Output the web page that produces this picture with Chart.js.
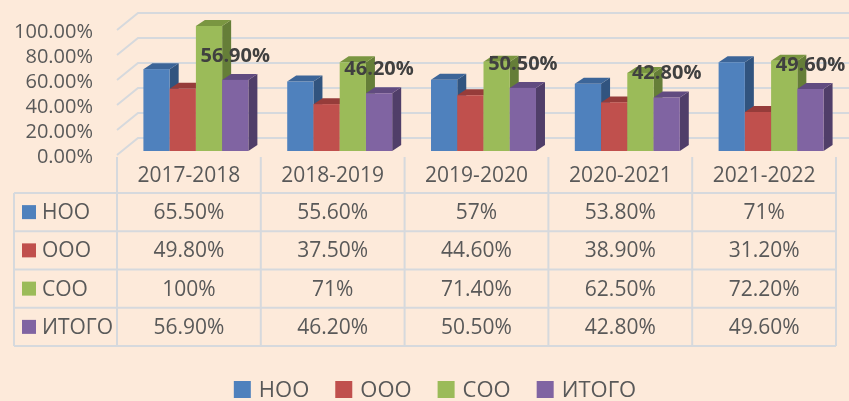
<!DOCTYPE html>
<html><head><meta charset="utf-8">
<script src="https://cdn.jsdelivr.net/npm/chart.js@4"></script>
<style>html,body{margin:0;padding:0;background:#FDEADA;}#wrap{width:849px;height:401px;}</style>
</head><body><div id="wrap"><canvas id="c" width="849" height="401"></canvas></div>
<script>
// ---- data ----
const categories = ['2017-2018','2018-2019','2019-2020','2020-2021','2021-2022'];
const seriesNames = ['НОО','ООО','СОО','ИТОГО'];
const nooValues   = [65.5, 55.6, 57, 53.8, 71];
const oooValues   = [49.8, 37.5, 44.6, 38.9, 31.2];
const sooValues   = [100, 71, 71.4, 62.5, 72.2];
const itogoValues = [56.9, 46.2, 50.5, 42.8, 49.6];
const yTicks = [0, 20, 40, 60, 80, 100];

// ---- styles ----
const FACE = ['#4F81BD','#C0504D','#9BBB59','#8064A2'];
const TOPC = ['#3C6598','#963C3A','#7A9641','#614B80'];
const SIDE = ['#31547F','#82302E','#657E38','#503E69'];
const GRID = '#D6D9DD';
const TEXT = '#595959';
const FONT = 'Open Sans';
const DX = 9, DY = 6;          // bar depth
const SHIFT = 7;               // perspective shift of bars
const WALL_DX = 21, WALL_BACK = 13, WALL_FRONT = 4;

const fmt = v => (Number.isInteger(v) ? v + '%' : v.toFixed(2) + '%');
const allSeries = [nooValues, oooValues, sooValues, itogoValues];

const plugin3d = {
  id: 'plugin3d',
  beforeDatasetsDraw(chart) {
    const {ctx, chartArea, scales: {y}} = chart;
    ctx.save();
    // walls / gridlines
    ctx.strokeStyle = GRID; ctx.lineWidth = 2;
    yTicks.forEach(v => {
      const yb = y.getPixelForValue(v);
      ctx.beginPath();
      ctx.moveTo(chartArea.left, yb + WALL_FRONT);
      ctx.lineTo(chartArea.left + WALL_DX, yb - WALL_BACK);
      ctx.lineTo(chart.width, yb - WALL_BACK);
      ctx.stroke();
    });
    // bars
    for (let i = 0; i < categories.length; i++) {
      for (let d = 0; d < allSeries.length; d++) {
        const el = chart.getDatasetMeta(d).data[i];
        const p = el.getProps(['x','y','base','width'], true);
        const l = p.x - p.width / 2 + SHIFT, r = l + p.width, t = p.y, b = p.base;
        ctx.fillStyle = SIDE[d];
        ctx.beginPath(); ctx.moveTo(r, t); ctx.lineTo(r + DX, t - DY); ctx.lineTo(r + DX, b - DY); ctx.lineTo(r, b); ctx.closePath(); ctx.fill();
        ctx.fillStyle = TOPC[d];
        ctx.beginPath(); ctx.moveTo(l, t); ctx.lineTo(r, t); ctx.lineTo(r + DX, t - DY); ctx.lineTo(l + DX, t - DY); ctx.closePath(); ctx.fill();
        ctx.fillStyle = FACE[d];
        ctx.fillRect(l, t, p.width, b - t);
      }
    }
    ctx.restore();
    return false;
  },
  afterDraw(chart) {
    const {ctx, chartArea, scales: {x, y}} = chart;
    ctx.save();
    // data labels (ИТОГО)
    const meta = chart.getDatasetMeta(3);
    ctx.font = 'bold 20px "' + FONT + '"';
    ctx.fillStyle = '#404040'; ctx.textAlign = 'center'; ctx.textBaseline = 'middle';
    meta.data.forEach((el, i) => {
      const p = el.getProps(['x','y'], true);
      ctx.fillText(itogoValues[i].toFixed(2) + '%', p.x + SHIFT, p.y - 24);
    });
    // data table
    const catW = (chartArea.right - chartArea.left) / categories.length;
    const tableLeft = 14, headTop = 157, headBottom = 193, rowH = 38.25;
    const nRows = seriesNames.length;
    const tableBottom = headBottom + rowH * nRows;
    ctx.strokeStyle = GRID; ctx.lineWidth = 2;
    ctx.beginPath();
    for (let i = 0; i <= categories.length; i++) {
      const xx = (i < categories.length ? x.getPixelForValue(i) - catW / 2 : x.getPixelForValue(i - 1) + catW / 2);
      ctx.moveTo(xx, headTop); ctx.lineTo(xx, tableBottom);
    }
    ctx.moveTo(tableLeft, headBottom); ctx.lineTo(tableLeft, tableBottom);
    for (let r = 0; r <= nRows; r++) {
      const yy = headBottom + r * rowH;
      ctx.moveTo(tableLeft, yy); ctx.lineTo(chartArea.right, yy);
    }
    ctx.stroke();
    ctx.fillStyle = TEXT; ctx.font = '21px "' + FONT + '"';
    ctx.textAlign = 'center'; ctx.textBaseline = 'middle';
    categories.forEach((c, i) => ctx.fillText(c, x.getPixelForValue(i), (headTop + headBottom) / 2 + 1));
    allSeries.forEach((vals, r) => {
      const cy = headBottom + rowH * (r + 0.5) + 1;
      ctx.textAlign = 'center'; ctx.fillStyle = TEXT;
      vals.forEach((v, i) => ctx.fillText(fmt(v), x.getPixelForValue(i), cy));
      ctx.fillStyle = FACE[r];
      ctx.fillRect(22, cy - 8, 14, 14);
      ctx.fillStyle = TEXT; ctx.textAlign = 'left';
      ctx.fillText(seriesNames[r], 42, cy);
    });
    // legend
    ctx.font = '22px "' + FONT + '"';
    const box = 17, gapIn = 8, gapOut = 26;
    const widths = seriesNames.map(s => box + gapIn + ctx.measureText(s).width);
    const total = widths.reduce((a, b) => a + b, 0) + gapOut * (widths.length - 1);
    let lx = 435 - total / 2;
    const ly = 390;
    ctx.textAlign = 'left';
    seriesNames.forEach((s, i) => {
      ctx.fillStyle = FACE[i];
      ctx.fillRect(lx, ly - 9, box, box);
      ctx.fillStyle = TEXT;
      ctx.fillText(s, lx + box + gapIn, ly + 1);
      lx += widths[i] + gapOut;
    });
    ctx.restore();
  }
};

new Chart(document.getElementById('c'), {
  type: 'bar',
  data: {
    labels: categories,
    datasets: allSeries.map((vals, i) => ({
      label: seriesNames[i], data: vals, backgroundColor: FACE[i],
      categoryPercentage: 0.73, barPercentage: 1.0
    }))
  },
  options: {
    responsive: false, animation: false, devicePixelRatio: 1,
    layout: {padding: {top: 26, bottom: 250, left: 0, right: 13}},
    plugins: {legend: {display: false}, tooltip: {enabled: false}},
    scales: {
      x: {display: false},
      y: {
        min: 0, max: 100,
        afterBuildTicks(s) { s.ticks = yTicks.map(v => ({value: v})); },
        afterFit(s) { s.width = 117; s.paddingTop = 0; s.paddingBottom = 0; },
        grid: {display: false, drawTicks: false},
        border: {display: false},
        ticks: {padding: 24, labelOffset: 6, autoSkip: false, color: TEXT, font: {family: FONT, size: 20},
          callback: v => Number(v).toFixed(2) + '%'}
      }
    }
  },
  plugins: [plugin3d]
});
</script></body></html>
